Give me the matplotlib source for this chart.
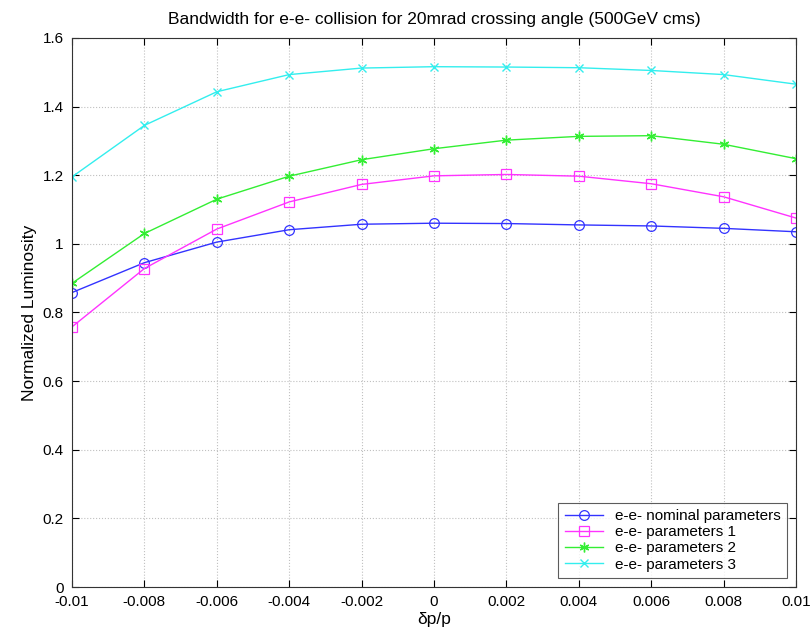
import matplotlib
matplotlib.use("Agg")
import matplotlib.pyplot as plt
import numpy as np

plt.rcParams['font.family'] = ['Liberation Sans', 'DejaVu Sans']

dp = [-0.01, -0.008, -0.006, -0.004, -0.002, 0.0, 0.002, 0.004, 0.006, 0.008, 0.01]
nominal = [0.858, 0.945, 1.005, 1.041, 1.057, 1.060, 1.059, 1.055, 1.052, 1.045, 1.035]
params1 = [0.758, 0.928, 1.043, 1.122, 1.173, 1.198, 1.202, 1.197, 1.175, 1.137, 1.075]
params2 = [0.885, 1.030, 1.130, 1.197, 1.245, 1.277, 1.302, 1.313, 1.315, 1.290, 1.248]
params3 = [1.195, 1.345, 1.443, 1.493, 1.512, 1.516, 1.515, 1.513, 1.505, 1.493, 1.465]
labels = ['e-e- nominal parameters', 'e-e- parameters 1', 'e-e- parameters 2', 'e-e- parameters 3']
xticks = [-0.01, -0.008, -0.006, -0.004, -0.002, 0, 0.002, 0.004, 0.006, 0.008, 0.01]
xticklabels = ['-0.01', '-0.008', '-0.006', '-0.004', '-0.002', '0', '0.002', '0.004', '0.006', '0.008', '0.01']
yticks = [0, 0.2, 0.4, 0.6, 0.8, 1.0, 1.2, 1.4, 1.6]
yticklabels = ['0', '0.2', '0.4', '0.6', '0.8', '1', '1.2', '1.4', '1.6']

fig = plt.figure(figsize=(8.12, 6.31), dpi=100)
ax = fig.add_axes([0.0887, 0.0697, 0.8916, 0.8703])

ax.plot(dp, nominal, color='#3333ff', marker='o', mfc='none', ms=7, mew=0.9, lw=1, label=labels[0])
ax.plot(dp, params1, color='#ff33ff', marker='s', mfc='none', ms=6.5, mew=0.9, lw=1, label=labels[1])
ax.plot(dp, params2, color='#33ee33', marker=(6, 2, 0), ms=7, mew=1, lw=1, label=labels[2])
ax.plot(dp, params3, color='#33eeee', marker='x', ms=6, mew=1, lw=1, label=labels[3])

ax.set_xlim(-0.01, 0.01)
ax.set_ylim(0, 1.6)
ax.set_xticks(xticks)
ax.set_xticklabels(xticklabels)
ax.set_yticks(yticks)
ax.set_yticklabels(yticklabels)
ax.tick_params(direction='in', top=True, right=True, labelsize=11, length=5, pad=6)
ax.grid(True, linestyle=':', color='#c0c0c0', lw=0.8)
for s in ax.spines.values():
    s.set_color('#333333')
    s.set_linewidth(0.8)

ax.set_title('Bandwidth for e-e- collision for 20mrad crossing angle (500GeV cms)', fontsize=12.5, pad=10)
ax.set_xlabel('δp/p', fontsize=12.5, labelpad=2)
ax.set_ylabel('Normalized Luminosity', fontsize=12.5)

leg = ax.legend(loc='lower right', fontsize=11, frameon=True, fancybox=False,
                edgecolor='#333333', borderaxespad=0.6, handlelength=2.5, labelspacing=0.15)
leg.get_frame().set_linewidth(0.8)

fig.savefig('out.png', dpi=100)
